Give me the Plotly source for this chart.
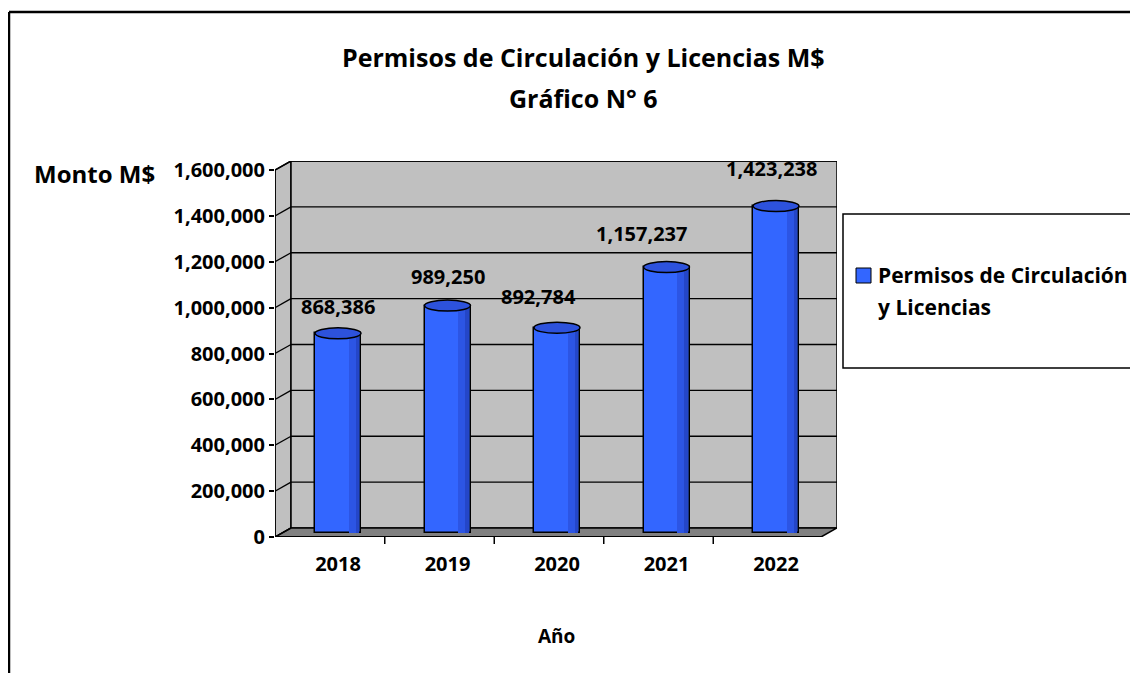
import plotly.graph_objects as go

# ---------------- data ----------------
years = ["2018", "2019", "2020", "2021", "2022"]
values = [868386, 989250, 892784, 1157237, 1423238]
y_ticks = [0, 200000, 400000, 600000, 800000, 1000000, 1200000, 1400000, 1600000]
series_name = "Permisos de Circulación y Licencias"
title_line1 = "Permisos de Circulación y Licencias M$"
title_line2 = "Gráfico N° 6"
y_title = "Monto M$"
x_title = "Año"

# ---------------- layout geometry (pixels, in screen coords) ----------------
PAGE_OFF = 8                      # default body margin of the html page
W, H = 1138 - PAGE_OFF, 673 - PAGE_OFF
L_PX, R_PX, T_PX, B_PX = 275, 837, 161, 537      # plot box (front-left to back-right)
CAT0_PX, CAT_STEP = 338, 109.5                     # first category centre, spacing
VAL_PX = 367 / 1600000                             # pixels per value unit
DEPTH_X, DEPTH_Y = 16, 9                           # 3D depth offset in pixels

xr0 = (L_PX - CAT0_PX) / CAT_STEP
xr1 = (R_PX - CAT0_PX) / CAT_STEP
ytop = (B_PX - T_PX) / VAL_PX
dx = DEPTH_X / CAT_STEP
dy = DEPTH_Y / VAL_PX

FONT = "Open Sans"
BAR_W = 0.42
ELL_H = 5.5 / VAL_PX
BASE = dy / 2

def px2paper(px, py):
    return (px - L_PX) / (R_PX - L_PX), (B_PX - py) / (B_PX - T_PX)

xs = list(range(len(years)))

fig = go.Figure()

# bar bodies
fig.add_trace(go.Bar(
    x=xs, y=values, base=BASE, width=BAR_W,
    marker=dict(color="#3366ff", line=dict(color="black", width=1.5)),
    name=series_name, showlegend=False, hoverinfo="y"))
# darker right-side shading strips
fig.add_trace(go.Bar(
    x=xs, y=values, base=BASE, width=0.075, offset=0.10,
    marker=dict(color="#2c55e4", line=dict(width=0)),
    showlegend=False, hoverinfo="skip"))
fig.add_trace(go.Bar(
    x=xs, y=values, base=BASE, width=0.035, offset=0.16,
    marker=dict(color="#2446c8", line=dict(width=0)),
    showlegend=False, hoverinfo="skip"))

shapes = []
GRAY = "#c0c0c0"
# side wall
shapes.append(dict(type="path", xref="x", yref="y", layer="below",
                   path=f"M {xr0},0 L {xr0+dx},{dy} L {xr0+dx},{ytop} L {xr0},{ytop-dy} Z",
                   fillcolor=GRAY, line=dict(color="black", width=1.5)))
# back wall
shapes.append(dict(type="rect", xref="x", yref="y", layer="below",
                   x0=xr0 + dx, x1=xr1, y0=dy, y1=ytop,
                   fillcolor=GRAY, line=dict(color="black", width=1.5)))
# floor
shapes.append(dict(type="path", xref="x", yref="y", layer="below",
                   path=f"M {xr0},0 L {xr0+dx},{dy} L {xr1},{dy} L {xr1-dx},0 Z",
                   fillcolor="#808080", line=dict(color="black", width=1.5)))
# gridlines on back wall + side wall
for v in y_ticks:
    if v > 0:
        shapes.append(dict(type="line", xref="x", yref="y", layer="below",
                           x0=xr0 + dx, x1=xr1, y0=v + dy, y1=v + dy,
                           line=dict(color="black", width=1.3)))
    shapes.append(dict(type="line", xref="x", yref="y", layer="below",
                       x0=xr0, x1=xr0 + dx, y0=v, y1=v + dy,
                       line=dict(color="black", width=1.3)))
# front edge of side wall and floor
shapes.append(dict(type="line", xref="x", yref="y", layer="below",
                   x0=xr0, x1=xr0, y0=0, y1=ytop - dy, line=dict(color="black", width=1.5)))
shapes.append(dict(type="line", xref="x", yref="y", layer="below",
                   x0=xr0, x1=xr1 - dx, y0=0, y1=0, line=dict(color="black", width=2)))
# category boundary ticks on the front edge
for i in range(len(years) - 1):
    xb = i + 0.5 - dx / 2
    shapes.append(dict(type="line", xref="x", yref="paper", layer="above",
                       x0=xb, x1=xb, y0=0, y1=-7 / (B_PX - T_PX),
                       line=dict(color="black", width=1.5)))

# cylinder tops
for i, v in zip(xs, values):
    top = v + BASE
    shapes.append(dict(type="circle", xref="x", yref="y", layer="above",
                       x0=i - BAR_W / 2, x1=i + BAR_W / 2, y0=top - ELL_H, y1=top + ELL_H,
                       fillcolor="#2d52dc", line=dict(color="black", width=1.5)))

# chart border (left + top)
bx, by = px2paper(9, 12)
_, bbot = px2paper(9, 700)
bright, _ = px2paper(1160, 12)
shapes.append(dict(type="line", xref="paper", yref="paper", x0=bx, x1=bx, y0=bbot, y1=by,
                   line=dict(color="black", width=2.5)))
shapes.append(dict(type="line", xref="paper", yref="paper", x0=bx, x1=bright, y0=by, y1=by,
                   line=dict(color="black", width=2.5)))

# legend box
lx0, ly0 = px2paper(843, 368)
lx1, ly1 = px2paper(1160, 214)
shapes.append(dict(type="rect", xref="paper", yref="paper", x0=lx0, x1=lx1, y0=ly0, y1=ly1,
                   fillcolor="white", line=dict(color="black", width=1.5)))
mx0, my0 = px2paper(856, 283)
mx1, my1 = px2paper(871, 268)
shapes.append(dict(type="rect", xref="paper", yref="paper", x0=mx0, x1=mx1, y0=my0, y1=my1,
                   fillcolor="#3366ff", line=dict(color="black", width=1)))

annotations = []
# data labels
label_dx = [0, 0, -19, -25, -5]
label_dy = [6, 8, 10, 13, 17]
for i, v in zip(xs, values):
    annotations.append(dict(x=i, y=v + BASE + ELL_H, xref="x", yref="y",
                            text=f"{v:,}", showarrow=False, yanchor="bottom",
                            xshift=label_dx[i], yshift=label_dy[i],
                            font=dict(family=FONT, size=20, color="black", weight="bold")))

def ann(px, py, text, size, xanchor="center"):
    x, y = px2paper(px, py)
    annotations.append(dict(x=x, y=y, xref="paper", yref="paper", text=text,
                            showarrow=False, xanchor=xanchor, yanchor="middle",
                            font=dict(family=FONT, size=size, color="black", weight="bold")))

ann(583, 57, title_line1, 25)
ann(583, 98, title_line2, 25)
ann(94, 173, y_title, 24)
ann(556, 636, x_title, 19)
leg_words = series_name.split(" y ")
ann(876, 275, leg_words[0], 21, "left")
ann(876, 307, "y " + leg_words[1], 21, "left")

fig.update_layout(
    width=W, height=H,
    margin=dict(l=L_PX - PAGE_OFF, r=W - (R_PX - PAGE_OFF), t=T_PX - PAGE_OFF,
                b=H - (B_PX - PAGE_OFF), pad=0),
    paper_bgcolor="white", plot_bgcolor="white",
    barmode="overlay", bargap=0,
    showlegend=False,
    shapes=shapes, annotations=annotations,
    xaxis=dict(range=[xr0, xr1], tickvals=xs, ticktext=years,
               showgrid=False, zeroline=False, showline=False,
               ticks="outside", ticklen=9, tickcolor="rgba(0,0,0,0)",
               tickfont=dict(family=FONT, size=20, color="black", weight="bold"),
               fixedrange=True),
    yaxis=dict(range=[0, ytop], tickvals=y_ticks, tickformat=",d",
               showgrid=False, zeroline=False, showline=False,
               ticks="outside", ticklen=5, tickcolor="black", tickwidth=1.5,
               tickfont=dict(family=FONT, size=20, color="black", weight="bold"),
               fixedrange=True),
)

fig.write_html("out.html")
